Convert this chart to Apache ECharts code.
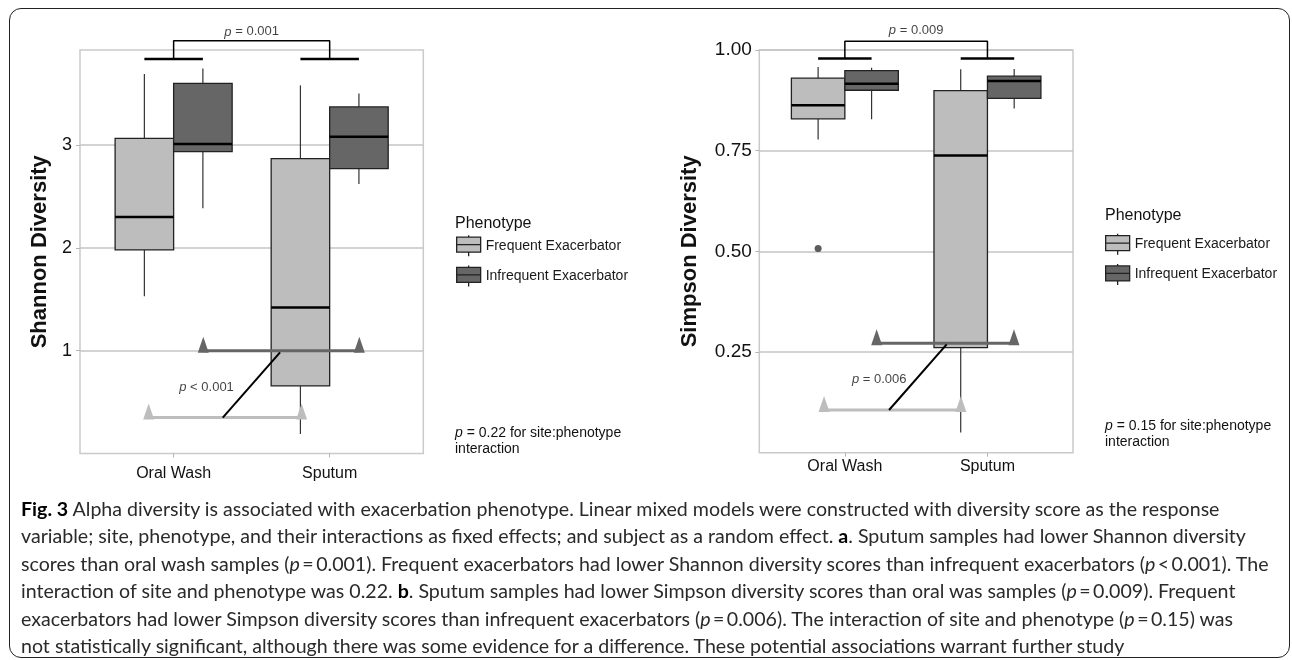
<!DOCTYPE html>
<html>
<head>
<meta charset="utf-8">
<title>Fig. 3 Alpha diversity and exacerbation phenotype</title>
<script src="https://cdn.jsdelivr.net/npm/echarts@6/dist/echarts.min.js"></script>
<style>
  html, body { margin: 0; padding: 0; background: #fff; }
  #wrap { position: relative; width: 1292px; height: 660px; overflow: hidden; }
  #frame { position: absolute; left: 9px; top: 8px; width: 1279px; height: 648px; border: 1.5px solid #222; border-radius: 12px; }
  #chart { position: absolute; left: 0; top: 0; width: 1292px; height: 660px; }
  #caption { position: absolute; left: 21px; top: 495px; font-family: Lato, 'Open Sans', sans-serif; font-size: 19.6px; line-height: 27.4px; color: #2a2a2a; }
  #caption div { white-space: nowrap; }
  #caption b { color: #000; }
</style>
</head>
<body>
<div id="wrap">
  <div id="frame"></div>
  <div id="chart"></div>
  <div id="caption">
    <div><b>Fig. 3</b> Alpha diversity is associated with exacerbation phenotype. Linear mixed models were constructed with diversity score as the response</div>
    <div>variable; site, phenotype, and their interactions as fixed effects; and subject as a random effect. <b>a</b>. Sputum samples had lower Shannon diversity</div>
    <div>scores than oral wash samples (<i>p</i>&thinsp;=&thinsp;0.001). Frequent exacerbators had lower Shannon diversity scores than infrequent exacerbators (<i>p</i>&thinsp;&lt;&thinsp;0.001). The</div>
    <div>interaction of site and phenotype was 0.22. <b>b</b>. Sputum samples had lower Simpson diversity scores than oral was samples (<i>p</i>&thinsp;=&thinsp;0.009). Frequent</div>
    <div>exacerbators had lower Simpson diversity scores than infrequent exacerbators (<i>p</i>&thinsp;=&thinsp;0.006). The interaction of site and phenotype (<i>p</i>&thinsp;=&thinsp;0.15) was</div>
    <div>not statistically significant, although there was some evidence for a difference. These potential associations warrant further study</div>
  </div>
</div>
<script>
const sites = ['Oral Wash', 'Sputum'];
const phenotypes = ['Frequent Exacerbator', 'Infrequent Exacerbator'];

// [lower whisker, Q1, median, Q3, upper whisker] for each site
const shannonFrequent = [[1.53, 1.98, 2.30, 3.065, 3.69], [0.19, 0.657, 1.42, 2.867, 3.58]];
const shannonInfrequent = [[2.385, 2.935, 3.01, 3.60, 3.745], [2.62, 2.77, 3.08, 3.37, 3.50]];
const simpsonFrequent = [[0.778, 0.829, 0.863, 0.930, 0.958], [0.050, 0.261, 0.738, 0.899, 0.952]];
const simpsonInfrequent = [[0.828, 0.900, 0.916, 0.949, 0.956], [0.855, 0.880, 0.923, 0.935, 0.953]];
// [site, value] outliers of the frequent group
const simpsonFrequentOutliers = [[1, 0.507]];

// y ticks
const shannonTicks = [1, 2, 3];
const simpsonTicks = [0.25, 0.5, 0.75, 1];

// site comparison brackets: [bar level, bracket top, label level]
const shannonBracket = [3.836, 4.014, 4.10];
const simpsonBracket = [0.979, 1.022, 1.048];
const shannonSiteP = '{i|p} = 0.001';
const simpsonSiteP = '{i|p} = 0.009';

// phenotype comparison marks, [x, y] in axis units
const shannonInfreqLine = [[1.19, 1.0], [2.19, 1.0]];
const shannonFreqLine = [[0.84, 0.349], [1.82, 0.349]];
const shannonLink = [[1.315, 0.349], [1.682, 0.984]];
const shannonPhenoLabel = [1.211, 0.640];
const shannonPhenoP = '{i|p} < 0.001';
const simpsonInfreqLine = [[1.223, 0.2716], [2.186, 0.2716]];
const simpsonFreqLine = [[0.854, 0.106], [1.814, 0.106]];
const simpsonLink = [[1.31, 0.106], [1.714, 0.269]];
const simpsonPhenoLabel = [1.241, 0.182];
const simpsonPhenoP = '{i|p} = 0.006';

const interactionNotes = ['{i|p} = 0.22 for site:phenotype\ninteraction', '{i|p} = 0.15 for site:phenotype\ninteraction'];

const FONT = "'Liberation Sans', Arial, Helvetica, sans-serif";
const LIGHT = '#bdbdbd';
const DARK = '#666666';
const dodge = 0.1875;
const boxWidth = 0.375;

const chart = echarts.init(document.getElementById('chart'), null, { renderer: 'canvas' });

function boxSeries(name, rows, gi, side, fill) {
  return {
    type: 'custom',
    name: name,
    xAxisIndex: gi,
    yAxisIndex: gi,
    silent: true,
    itemStyle: { color: fill },
    encode: { x: 0, y: [1, 2, 3, 4, 5] },
    data: rows.map((r, i) => [i + 1 + side * dodge].concat(r)),
    renderItem: function (params, api) {
      const x = api.value(0);
      const half = api.size([boxWidth, 0])[0] / 2;
      const p = [1, 2, 3, 4, 5].map(d => api.coord([x, api.value(d)]));
      const cx = p[0][0];
      const whisker = { stroke: '#333', lineWidth: 1.2 };
      return {
        type: 'group',
        children: [
          { type: 'line', shape: { x1: cx, y1: p[0][1], x2: cx, y2: p[1][1] }, style: whisker },
          { type: 'line', shape: { x1: cx, y1: p[3][1], x2: cx, y2: p[4][1] }, style: whisker },
          { type: 'rect', shape: { x: cx - half, y: p[3][1], width: half * 2, height: p[1][1] - p[3][1] },
            style: { fill: fill, stroke: '#222', lineWidth: 1.3 } },
          { type: 'line', shape: { x1: cx - half, y1: p[2][1], x2: cx + half, y2: p[2][1] },
            style: { stroke: '#000', lineWidth: 2.5 } }
        ]
      };
    }
  };
}

function pathSeries(gi, points, color, width, triangles) {
  return {
    type: 'line',
    xAxisIndex: gi,
    yAxisIndex: gi,
    data: points,
    clip: false,
    silent: true,
    z: 3,
    lineStyle: { color: color, width: width },
    itemStyle: { color: color },
    symbol: triangles ? 'triangle' : 'none',
    symbolSize: [11, 16],
    symbolOffset: [0, -6]
  };
}

function bracketSeries(gi, levels) {
  const bar = levels[0], top = levels[1];
  return [
    pathSeries(gi, [[1 - dodge, bar], [1 + dodge, bar]], '#000', 2.5, false),
    pathSeries(gi, [[2 - dodge, bar], [2 + dodge, bar]], '#000', 2.5, false),
    pathSeries(gi, [[1, bar], [1, top], [2, top], [2, bar]], '#000', 1.5, false)
  ];
}

function labelSeries(gi, point, text) {
  return {
    type: 'scatter',
    xAxisIndex: gi,
    yAxisIndex: gi,
    data: [point],
    symbolSize: 0,
    clip: false,
    silent: true,
    z: 4,
    label: {
      show: true,
      position: 'inside',
      formatter: text,
      fontSize: 13,
      fontFamily: FONT,
      color: '#111',
      rich: { i: { fontStyle: 'italic', fontSize: 13, fontFamily: FONT, color: '#111' } }
    }
  };
}

function xAxis(gi, margin) {
  return {
    type: 'value',
    gridIndex: gi,
    min: 0.4,
    max: 2.6,
    axisLine: { show: false },
    splitLine: { show: false },
    axisTick: { show: true, customValues: [1, 2], length: 4, lineStyle: { color: '#b5b5b5' } },
    axisLabel: {
      customValues: [1, 2],
      formatter: v => sites[Math.round(v) - 1],
      fontSize: 16, fontFamily: FONT, color: '#111', margin: margin
    }
  };
}

function yAxis(gi, name, opts) {
  return Object.assign({
    type: 'value',
    gridIndex: gi,
    min: 0,
    name: name,
    nameLocation: 'middle',
    nameTextStyle: { fontSize: 22, fontWeight: 'bold', fontFamily: FONT, color: '#111' },
    axisLine: { show: false },
    splitLine: { show: true, lineStyle: { color: '#c4c4c4', width: 1.5 } }
  }, opts);
}

const keyIcon = 'path://M0,2h24v15h-24z M0,9.5h24 M12,0v2 M12,17v4';
const legendItems = phenotypes.map((n, i) => ({
  name: n,
  itemStyle: { color: i === 0 ? LIGHT : DARK, borderColor: '#222', borderWidth: 1.3 }
}));
function legend(left, top) {
  return {
    left: left, top: top, orient: 'vertical', padding: 0, itemGap: 8,
    itemWidth: 24, itemHeight: 21, icon: keyIcon, selectedMode: false,
    data: legendItems,
    textStyle: { fontSize: 14, fontFamily: FONT, color: '#1a1a1a' }
  };
}

function noteText(left, top, text, size) {
  return {
    type: 'text', left: left, top: top, silent: true,
    style: {
      text: text, fontSize: size, fontFamily: FONT, fill: '#111', lineHeight: 16,
      rich: { i: { fontStyle: 'italic', fontSize: size, fontFamily: FONT, fill: '#111', lineHeight: 16 } }
    }
  };
}

chart.setOption({
  animation: false,
  grid: [
    { left: 80, top: 50, width: 343.3, height: 403.5, show: true, borderColor: '#cacaca', borderWidth: 1.5 },
    { left: 759.3, top: 50, width: 313.7, height: 402.7, show: true, borderColor: '#cacaca', borderWidth: 1.5 }
  ],
  xAxis: [xAxis(0, 12.5), xAxis(1, 6)],
  yAxis: [
    yAxis(0, 'Shannon Diversity', {
      max: 3.924, interval: 1, nameGap: 29,
      axisTick: { show: true, customValues: shannonTicks, length: 4, lineStyle: { color: '#b5b5b5' } },
      axisLabel: { customValues: shannonTicks, formatter: v => String(v), fontSize: 18, fontFamily: FONT, color: '#111', margin: 8 }
    }),
    yAxis(1, 'Simpson Diversity', {
      max: 1, interval: 0.25, nameGap: 58,
      axisTick: { show: true, customValues: simpsonTicks, length: 4, lineStyle: { color: '#b5b5b5' } },
      axisLabel: { customValues: simpsonTicks, formatter: v => v.toFixed(2), fontSize: 19, fontFamily: FONT, color: '#111', margin: 7.5 }
    })
  ],
  legend: [legend(456, 234.5), legend(1105, 233)],
  graphic: [
    noteText(455, 216, 'Phenotype', 16),
    noteText(1105, 208, 'Phenotype', 16),
    noteText(455, 425, interactionNotes[0], 14),
    noteText(1105, 418.5, interactionNotes[1], 14)
  ],
  series: [
    boxSeries(phenotypes[0], shannonFrequent, 0, -1, LIGHT),
    boxSeries(phenotypes[1], shannonInfrequent, 0, 1, DARK),
    boxSeries(phenotypes[0], simpsonFrequent, 1, -1, LIGHT),
    boxSeries(phenotypes[1], simpsonInfrequent, 1, 1, DARK),
    {
      type: 'scatter', xAxisIndex: 1, yAxisIndex: 1, silent: true,
      data: simpsonFrequentOutliers.map(d => [d[0] - dodge, d[1]]),
      symbolSize: 7, itemStyle: { color: '#333' }
    },
    ...bracketSeries(0, shannonBracket),
    ...bracketSeries(1, simpsonBracket),
    labelSeries(0, [1.5, shannonBracket[2]], shannonSiteP),
    labelSeries(1, [1.5, simpsonBracket[2]], simpsonSiteP),
    pathSeries(0, shannonInfreqLine, DARK, 3, true),
    pathSeries(0, shannonFreqLine, LIGHT, 3, true),
    pathSeries(0, shannonLink, '#000', 2, false),
    labelSeries(0, shannonPhenoLabel, shannonPhenoP),
    pathSeries(1, simpsonInfreqLine, DARK, 3, true),
    pathSeries(1, simpsonFreqLine, LIGHT, 3, true),
    pathSeries(1, simpsonLink, '#000', 2, false),
    labelSeries(1, simpsonPhenoLabel, simpsonPhenoP)
  ]
});
</script>
</body>
</html>
